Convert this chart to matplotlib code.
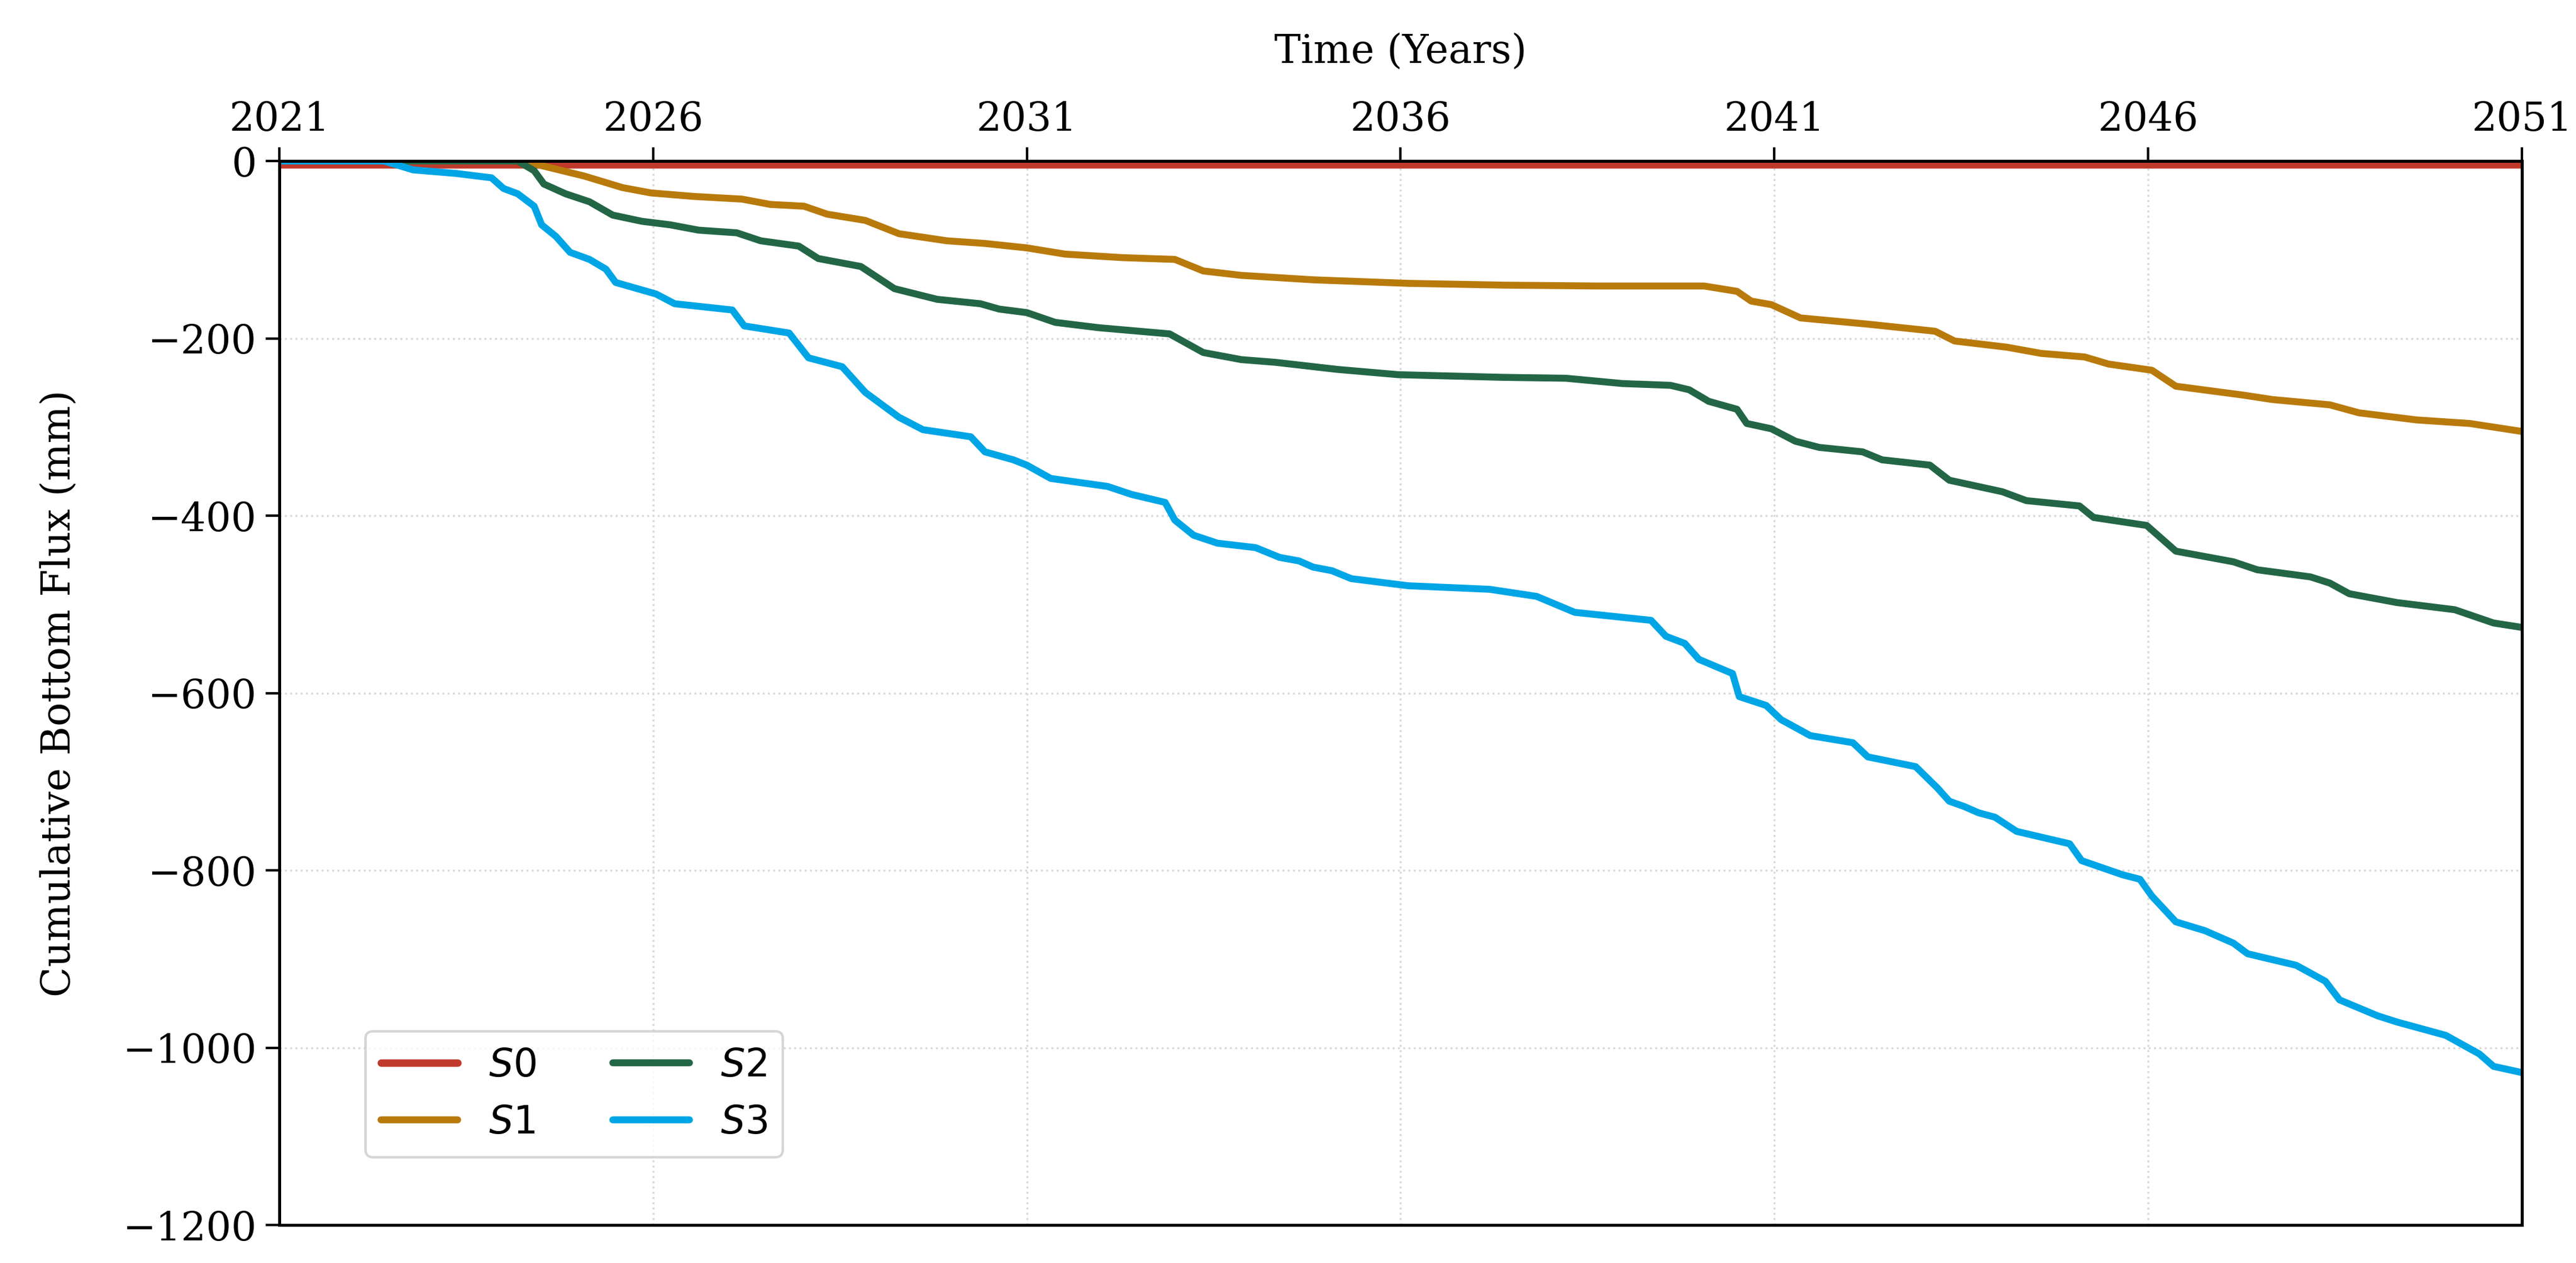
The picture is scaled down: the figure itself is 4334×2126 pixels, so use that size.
import numpy as np
import matplotlib
matplotlib.use("Agg")
import matplotlib.pyplot as plt

plt.rcParams['font.family'] = 'DejaVu Serif'
plt.rcParams['mathtext.fontset'] = 'dejavusans'

# cumulative bottom flux (mm), decimal years
s0_t = [2021.0, 2051.0]
s0_v = [-4, -4]

s1_t = [2021.0, 2024.32, 2024.45, 2025.08, 2025.59, 2025.97, 2026.55, 2027.19, 2027.57,
        2028.02, 2028.33, 2028.84, 2029.29, 2029.93, 2030.44, 2031.0, 2031.51, 2032.28,
        2032.98, 2033.36, 2033.87, 2034.83, 2036.10, 2037.38, 2038.65, 2040.06, 2040.50,
        2040.69, 2040.96, 2041.35, 2042.25, 2043.15, 2043.41, 2044.11, 2044.57, 2045.15,
        2045.47, 2046.05, 2046.37, 2047.27, 2047.66, 2048.43, 2048.82, 2049.59, 2050.30,
        2051.0]
s1_v = [0, 0, -4, -17, -30, -36, -40, -43, -49,
        -51, -60, -67, -82, -90, -93, -98, -105, -109,
        -111, -124, -129, -134, -138, -140, -141, -141, -147,
        -158, -162, -177, -184, -192, -203, -210, -217, -221,
        -229, -236, -254, -264, -269, -275, -284, -292, -296,
        -305]

s2_t = [2021.0, 2024.19, 2024.41, 2024.54, 2024.83, 2025.15, 2025.46, 2025.85, 2026.23,
        2026.61, 2027.12, 2027.44, 2027.95, 2028.21, 2028.78, 2029.23, 2029.80, 2030.38,
        2030.63, 2031.0, 2031.38, 2031.96, 2032.91, 2033.36, 2033.87, 2034.32, 2035.15,
        2035.97, 2037.38, 2038.21, 2038.97, 2039.61, 2039.86, 2040.12, 2040.50, 2040.63,
        2040.96, 2041.28, 2041.60, 2042.18, 2042.44, 2043.08, 2043.34, 2044.05, 2044.37,
        2045.08, 2045.27, 2045.98, 2046.37, 2047.14, 2047.46, 2048.17, 2048.43, 2048.69,
        2049.33, 2050.10, 2050.62, 2051.0]
s2_v = [0, 0, -11, -26, -37, -46, -61, -68, -72,
        -78, -81, -90, -96, -110, -119, -144, -156, -161,
        -167, -171, -182, -188, -195, -216, -224, -227, -235,
        -241, -244, -245, -251, -253, -258, -271, -280, -296,
        -302, -316, -323, -328, -337, -343, -360, -373, -383,
        -389, -402, -411, -440, -452, -461, -469, -476, -488,
        -498, -506, -521, -526]

s3_t = [2021.0, 2022.40, 2022.79, 2023.36, 2023.84, 2024.0, 2024.19, 2024.41, 2024.51,
        2024.70, 2024.89, 2025.15, 2025.37, 2025.50, 2026.04, 2026.29, 2027.06, 2027.22,
        2027.82, 2028.08, 2028.53, 2028.84, 2029.29, 2029.61, 2030.25, 2030.44, 2030.82,
        2031.0, 2031.32, 2032.08, 2032.40, 2032.85, 2032.98, 2033.23, 2033.55, 2034.06,
        2034.38, 2034.64, 2034.83, 2035.08, 2035.34, 2036.10, 2037.19, 2037.82, 2038.33,
        2039.35, 2039.55, 2039.80, 2039.99, 2040.44, 2040.53, 2040.89, 2041.09, 2041.48,
        2042.05, 2042.25, 2042.89, 2043.18, 2043.34, 2043.54, 2043.73, 2043.95, 2044.24,
        2044.95, 2045.11, 2045.66, 2045.89, 2046.05, 2046.37, 2046.76, 2047.14, 2047.33,
        2047.98, 2048.37, 2048.56, 2049.07, 2049.33, 2049.98, 2050.43, 2050.62, 2051.0]
s3_v = [0, 0, -10, -14, -19, -31, -37, -51, -72,
        -85, -103, -111, -122, -137, -150, -161, -168, -186,
        -194, -222, -232, -261, -289, -303, -311, -328, -337,
        -343, -358, -367, -376, -385, -405, -422, -431, -436,
        -447, -451, -458, -462, -471, -479, -483, -491, -509,
        -518, -536, -544, -562, -578, -604, -614, -630, -648,
        -656, -672, -683, -707, -722, -728, -735, -740, -756,
        -770, -789, -805, -810, -829, -858, -868, -882, -894,
        -907, -925, -946, -964, -971, -986, -1007, -1021, -1028]

year_ticks = [2021, 2026, 2031, 2036, 2041, 2046, 2051]
flux_ticks = [0, -200, -400, -600, -800, -1000, -1200]

fig = plt.figure(figsize=(14.447, 7.087), dpi=300)
ax = fig.add_axes([0.1084, 0.030, 0.8706, 0.8425])

style = dict(solid_joinstyle='round', solid_capstyle='round')
ax.plot(s0_t, s0_v, color='#C0392B', lw=3.0, label='$S0$', **style)
ax.plot(s1_t, s1_v, color='#B97A0C', lw=2.8, label='$S1$', **style)
ax.plot(s2_t, s2_v, color='#236646', lw=2.8, label='$S2$', **style)
ax.plot(s3_t, s3_v, color='#00A5E6', lw=2.8, label='$S3$', **style)

ax.set_xlim(2021, 2051)
ax.set_ylim(-1200, 0)
ax.set_xticks(year_ticks)
ax.set_yticks(flux_ticks)
ax.xaxis.tick_top()
ax.xaxis.set_label_position('top')
ax.tick_params(axis='both', direction='out', length=5.5, width=1.0, labelsize=16)
ax.set_xlabel('Time (Years)', fontsize=16, labelpad=15)
ax.set_ylabel('Cumulative Bottom Flux (mm)', fontsize=16, labelpad=18)
ax.grid(True, linestyle=':', color='0.85', linewidth=0.8)
for sp in ax.spines.values():
    sp.set_linewidth(1.2)

ax.legend(loc='lower left', bbox_to_anchor=(0.030, 0.046), ncol=2, fontsize=15.5,
          frameon=True, edgecolor='0.8')

fig.savefig('out.png', dpi=300)
